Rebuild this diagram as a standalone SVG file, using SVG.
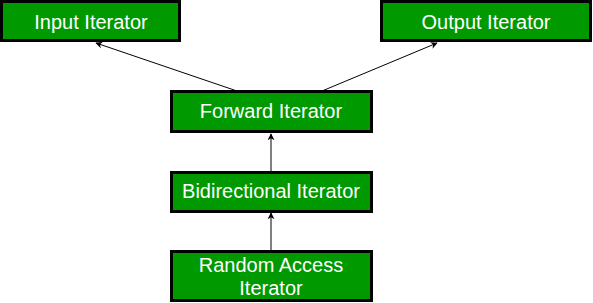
<svg xmlns="http://www.w3.org/2000/svg" width="593" height="303" viewBox="0 0 593 303">
<style>
.box{fill:#009900;stroke:#000;stroke-width:3}
.t{font-family:"Liberation Sans",Arial,sans-serif;font-size:20px;fill:#fff;text-anchor:middle}
.c{stroke:#000;stroke-width:1;fill:none;marker-end:url(#a)}
</style>
<defs>
<marker id="a" viewBox="0 0 10 10" refX="9" refY="5" markerWidth="7" markerHeight="7" markerUnits="userSpaceOnUse" orient="auto">
<path d="M0,0 L10,5 L0,10 L3,5 Z" fill="#000"/>
</marker>
</defs>
<g id="connectors">
<line class="c" x1="237" y1="91" x2="96" y2="43"/>
<line class="c" x1="322" y1="91" x2="437" y2="43"/>
<line class="c" x1="271" y1="171" x2="271" y2="134"/>
<line class="c" x1="271" y1="250" x2="271" y2="213"/>
</g>
<g id="input"><rect class="box" x="1.5" y="1.5" width="178" height="39"/><text class="t" x="91" y="29">Input Iterator</text></g>
<g id="output"><rect class="box" x="381.5" y="1.5" width="209" height="39"/><text class="t" x="486" y="29">Output Iterator</text></g>
<g id="forward"><rect class="box" x="171.5" y="91.5" width="200" height="40"/><text class="t" x="271" y="118">Forward Iterator</text></g>
<g id="bidirectional"><rect class="box" x="171.5" y="172.5" width="200" height="39"/><text class="t" x="271" y="198">Bidirectional Iterator</text></g>
<g id="random"><rect class="box" x="171.5" y="251.5" width="200" height="49"/><text class="t" x="271" y="272">Random Access</text><text class="t" x="271" y="295">Iterator</text></g>
</svg>
